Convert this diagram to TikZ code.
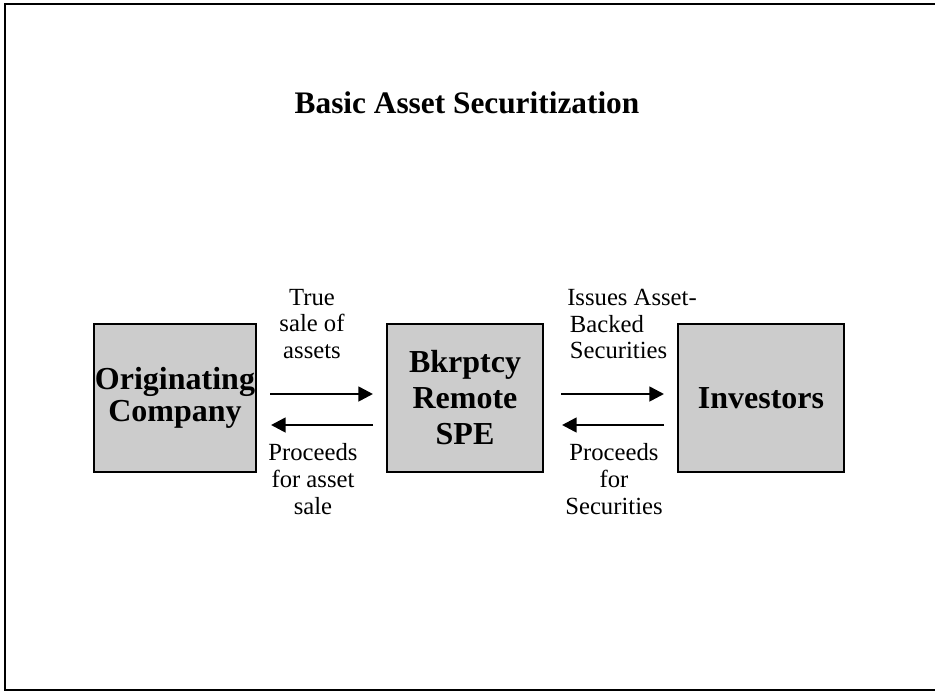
\documentclass[tikz,border=0pt]{standalone}
\usepackage{fontspec}
\setmainfont{Liberation Serif}
\usetikzlibrary{arrows.meta}
\begin{document}
\begin{tikzpicture}[x=0.75pt,y=-0.75pt,
  entity/.style={draw=black, line width=1.6pt, fill=black!20, minimum width=#1, minimum height=111pt, inner sep=0pt, align=center, font=\fontsize{24}{25}\selectfont\bfseries},
  lbl/.style={align=center, inner sep=0pt, font=\fontsize{18.5}{20}\selectfont},
  flow/.style={line width=2pt, -{Triangle[length=11pt,width=11pt]}},
  frame/.style={line width=2.2pt}]
\useasboundingbox (0,0) rectangle (935,693);
\draw[frame] (945,4) -- (5,4) -- (5,690) -- (945,690);
\node[font=\fontsize{23.5}{26}\selectfont\bfseries] (title) at (467,103) {Basic Asset Securitization};
\node[entity=122pt, font=\fontsize{24}{24}\selectfont\bfseries] (orig) at (175,398) {Originating\\Company};
\node[entity=117pt, font=\fontsize{24}{27}\selectfont\bfseries] (spe) at (465,398) {Bkrptcy\\Remote\\SPE};
\node[entity=124pt] (inv) at (761,398) {Investors};
\coordinate (a1s) at (270,394); \coordinate (a1e) at (373,394);
\coordinate (a2s) at (373,425); \coordinate (a2e) at (271,425);
\coordinate (a3s) at (561,394); \coordinate (a3e) at (664,394);
\coordinate (a4s) at (664,425); \coordinate (a4e) at (562,425);
\draw[flow] (a1s) -- (a1e);
\draw[flow] (a2s) -- (a2e);
\draw[flow] (a3s) -- (a3e);
\draw[flow] (a4s) -- (a4e);
\node[lbl] (l1) at (312,324) {True\\sale of\\assets};
\node[lbl] (l2) at (313,479) {Proceeds\\for asset\\sale};
\node[lbl, align=left, anchor=west] (l3) at (567,324) {Issues Asset-\\\hspace*{2pt}Backed\\\hspace*{2pt}Securities};
\node[lbl] (l4) at (614,479) {Proceeds\\for\\Securities};
\end{tikzpicture}
\end{document}
